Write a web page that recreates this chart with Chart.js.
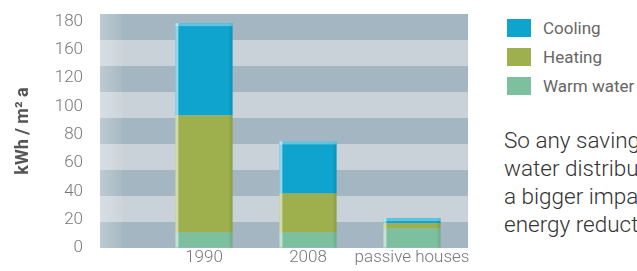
<!DOCTYPE html>
<html>
<head>
<meta charset="utf-8">
<script src="https://cdn.jsdelivr.net/npm/chart.js@4/dist/chart.umd.min.js"></script>
<style>
  html, body { margin: 0; padding: 0; background: #ffffff; overflow: hidden; width: 637px; height: 271px; }
  #wrap { position: absolute; left: 0; top: 0; width: 480px; height: 271px; }
  #legend { position: absolute; left: 507px; top: 19px; font-family: Roboto, sans-serif; font-size: 17px; color: #666; }
  .li { display: flex; align-items: center; height: 18px; margin-bottom: 11px; white-space: nowrap; }
  .sw { width: 24px; height: 18px; margin-right: 12px; flex: none; }
  #para { position: absolute; left: 504px; top: 126px; font-family: Roboto, sans-serif; font-weight: 300; font-size: 22.5px; line-height: 28px; color: #333; white-space: nowrap; }
</style>
</head>
<body>
<div id="wrap"><canvas id="c" width="480" height="271"></canvas></div>
<div id="legend"></div>
<div id="para">So any savings<br>water distribution<br>a bigger impact<br>energy reduction</div>
<script>
const categories = ['1990', '2008', 'passive houses'];
const warmWater = [12, 12, 15];
const heating = [90, 30, 4];
const cooling = [71, 40, 4];
const yTickLabels = ['0', '20', '40', '60', '80', '100', '120', '160', '180'];
const seriesNames = ['Warm water', 'Heating', 'Cooling'];
const seriesColors = ['#7dc09f', '#9db04d', '#0ea4ce'];

const TICK_STEP = 21.8;
const BAND = 20;

const bandsPlugin = {
  id: 'bands',
  beforeDatasetsDraw(chart) {
    const { ctx, chartArea } = chart;
    const y = chart.scales.y;
    const left = 100, right = 468;
    ctx.save();
    for (let i = 0; i * BAND < y.max; i++) {
      const y0 = y.getPixelForValue(i * BAND);
      const y1 = y.getPixelForValue(Math.min((i + 1) * BAND, y.max));
      ctx.fillStyle = (i % 2 === 0) ? '#a4b6c1' : '#c9d2d9';
      ctx.fillRect(left, y1, right - left, y0 - y1);
    }
    const g = ctx.createLinearGradient(left, 0, left + 22, 0);
    g.addColorStop(0, 'rgba(255,255,255,0.28)');
    g.addColorStop(1, 'rgba(255,255,255,0.05)');
    ctx.fillStyle = g;
    ctx.fillRect(left, chartArea.top, 22, chartArea.bottom - chartArea.top);
    ctx.restore();
  },
  afterDatasetsDraw(chart) {
    const { ctx } = chart;
    ctx.save();
    const n = chart.data.datasets.length;
    for (let d = 0; d < n; d++) {
      const meta = chart.getDatasetMeta(d);
      meta.data.forEach(bar => {
        const p = bar.getProps(['x', 'y', 'base', 'width'], true);
        const l = p.x - p.width / 2, r = p.x + p.width / 2;
        const top = Math.min(p.y, p.base), bot = Math.max(p.y, p.base);
        ctx.fillStyle = 'rgba(255,255,255,0.55)';
        ctx.fillRect(l, top, 3, bot - top);
        ctx.fillStyle = 'rgba(0,0,0,0.08)';
        ctx.fillRect(r - 3, top, 3, bot - top);
        if (d === n - 1) {
          ctx.fillStyle = 'rgba(255,255,255,0.35)';
          ctx.fillRect(l, top, r - l, 3);
        }
      });
    }
    ctx.restore();
  }
};

const datasets = seriesNames.map((name, i) => ({
  label: name,
  data: [warmWater, heating, cooling][i],
  backgroundColor: seriesColors[i],
  borderWidth: 0,
  barPercentage: 0.55,
  categoryPercentage: 1.0
}));

const legendEl = document.getElementById('legend');
datasets.slice().reverse().forEach(ds => {
  const row = document.createElement('div');
  row.className = 'li';
  const sw = document.createElement('span');
  sw.className = 'sw';
  sw.style.background = ds.backgroundColor;
  const tx = document.createElement('span');
  tx.textContent = ds.label;
  row.appendChild(sw);
  row.appendChild(tx);
  legendEl.appendChild(row);
});

new Chart(document.getElementById('c'), {
  type: 'bar',
  data: { labels: categories, datasets },
  plugins: [bandsPlugin],
  options: {
    responsive: false,
    animation: false,
    layout: { padding: { top: 14, right: 16, bottom: 0, left: 0 } },
    plugins: { legend: { display: false }, tooltip: { enabled: false } },
    scales: {
      x: {
        stacked: true,
        grid: { display: false, drawTicks: false },
        border: { display: false },
        afterFit(scale) { scale.height = 23; },
        ticks: { color: '#777', padding: 0, autoSkip: false, font: { family: 'Roboto', size: 17, weight: 300 }, maxRotation: 0 }
      },
      y: {
        stacked: true,
        min: 0,
        max: 180,
        grid: { display: true, drawOnChartArea: false, drawTicks: true, tickLength: 66, color: 'rgba(0,0,0,0)' },
        border: { display: false },
        afterBuildTicks(scale) {
          scale.ticks = yTickLabels.map((_, i) => ({ value: i * TICK_STEP }));
        },
        afterFit(scale) { scale.width = 152; },
        ticks: {
          color: '#777',
          padding: 3,
          font: { family: 'Roboto', size: 17, weight: 300 },
          callback: (v, i) => yTickLabels[i]
        },
        title: {
          display: true,
          text: 'kWh / m² a',
          color: '#555',
          padding: { top: 13, bottom: 0 },
          font: { family: 'Roboto', size: 18, weight: 'bold' }
        }
      }
    }
  }
});
</script>
</body>
</html>
